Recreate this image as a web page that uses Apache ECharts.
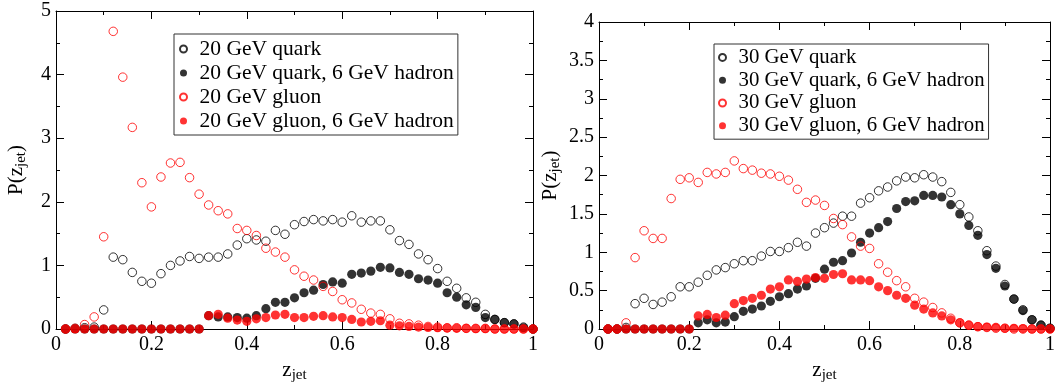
<!DOCTYPE html>
<html>
<head>
<meta charset="utf-8">
<script src="https://cdn.jsdelivr.net/npm/echarts@6/dist/echarts.min.js"></script>
<style>html,body{margin:0;padding:0;background:#fff}#c{width:1058px;height:388px}</style>
</head>
<body>
<div id="c"></div>
<script>
// z_jet bin centres
const zJet = [0.02,0.04,0.06,0.08,0.10,0.12,0.14,0.16,0.18,0.20,
              0.22,0.24,0.26,0.28,0.30,0.32,0.34,0.36,0.38,0.40,
              0.42,0.44,0.46,0.48,0.50,0.52,0.54,0.56,0.58,0.60,
              0.62,0.64,0.66,0.68,0.70,0.72,0.74,0.76,0.78,0.80,
              0.82,0.84,0.86,0.88,0.90,0.92,0.94,0.96,0.98,1.00];

// Left panel: 20 GeV
const quark20 = [0,0.01,0.02,0.03,0.30,1.13,1.09,0.89,0.75,0.72,
                 0.87,1.00,1.07,1.14,1.11,1.13,1.13,1.18,1.32,1.42,
                 1.40,1.38,1.55,1.49,1.64,1.69,1.72,1.70,1.72,1.68,
                 1.78,1.68,1.70,1.70,1.56,1.39,1.33,1.18,1.09,0.95,
                 0.75,0.64,0.49,0.42,0.23,0.15,0.10,0.08,0.03,0];
const quark20h = [0,0,0,0,0,0,0,0,0,0,
                  0,0,0,0,0,0.21,0.19,0.19,0.18,0.17,
                  0.21,0.32,0.42,0.42,0.49,0.57,0.61,0.70,0.74,0.72,
                  0.86,0.88,0.91,0.97,0.96,0.89,0.86,0.79,0.77,0.72,
                  0.57,0.50,0.38,0.34,0.18,0.15,0.10,0.08,0.02,0];
const gluon20 = [0,0.01,0.07,0.19,1.45,4.68,3.96,3.17,2.30,1.92,
                 2.39,2.61,2.62,2.38,2.12,1.95,1.86,1.81,1.58,1.55,
                 1.47,1.27,1.21,1.13,0.93,0.83,0.77,0.67,0.59,0.46,
                 0.41,0.31,0.25,0.23,0.16,0.09,0.08,0.06,0.04,0.03,
                 0.02,0.02,0.01,0.01,0.01,0,0,0,0,0];
const gluon20h = [0,0,0,0,0,0,0,0,0,0,
                  0,0,0,0,0,0.21,0.23,0.17,0.14,0.12,
                  0.16,0.18,0.22,0.23,0.18,0.18,0.20,0.21,0.19,0.18,
                  0.15,0.11,0.12,0.13,0.06,0.05,0.04,0.03,0.025,0.02,
                  0.015,0.01,0.01,0.005,0.005,0,0,0,0,0];

// Right panel: 30 GeV
const quark30 = [0,0,0.02,0.33,0.40,0.32,0.35,0.42,0.55,0.55,
                 0.61,0.70,0.77,0.80,0.85,0.89,0.89,0.95,1.01,1.01,
                 1.06,1.13,1.08,1.25,1.32,1.38,1.47,1.47,1.64,1.71,
                 1.80,1.85,1.93,1.98,1.97,2.01,1.98,1.92,1.78,1.62,
                 1.46,1.28,1.02,0.82,0.58,0.39,0.25,0.12,0.05,0.01];
const quark30h = [0,0,0,0,0,0,0,0,0,0,
                  0.08,0.12,0.08,0.09,0.16,0.23,0.26,0.30,0.36,0.42,
                  0.46,0.52,0.56,0.66,0.78,0.87,0.89,0.99,1.13,1.25,
                  1.32,1.40,1.57,1.66,1.67,1.74,1.74,1.72,1.62,1.50,
                  1.35,1.22,0.97,0.79,0.56,0.39,0.24,0.12,0.05,0.01];
const gluon30 = [0,0,0.08,0.93,1.28,1.18,1.18,1.70,1.95,1.97,
                 1.91,2.04,2.02,2.04,2.19,2.09,2.07,2.03,2.02,1.99,
                 1.94,1.82,1.65,1.68,1.61,1.44,1.36,1.20,1.08,1.05,
                 0.85,0.74,0.63,0.55,0.40,0.35,0.28,0.21,0.14,0.08,
                 0.05,0.03,0.02,0.01,0.01,0,0,0,0,0];
const gluon30h = [0,0,0,0,0,0,0,0,0,0,
                  0.17,0.19,0.15,0.18,0.33,0.37,0.40,0.44,0.52,0.55,
                  0.64,0.62,0.65,0.67,0.66,0.71,0.72,0.64,0.64,0.63,
                  0.55,0.50,0.44,0.40,0.31,0.26,0.21,0.17,0.12,0.08,
                  0.05,0.03,0.025,0.02,0.01,0.01,0.005,0,0,0];

const namesLeft = ['20 GeV quark','20 GeV quark, 6 GeV hadron','20 GeV gluon','20 GeV gluon, 6 GeV hadron'];
const namesRight = ['30 GeV quark','30 GeV quark, 6 GeV hadron','30 GeV gluon','30 GeV gluon, 6 GeV hadron'];

const FONT = 'Liberation Serif';
const pairs = (ys) => zJet.map((x, i) => [x, ys[i]]);

const richName = {
  a: {fontFamily: FONT, fontSize: 21, color: '#000'},
  b: {fontFamily: FONT, fontSize: 15, color: '#000', padding: [10, 0, 0, 0]}
};

function xAxes(gi) {
  const common = {
    type: 'value', gridIndex: gi, min: 0, max: 1, interval: 0.2,
    axisLine: {show: true, onZero: false, lineStyle: {color: '#000', width: 1}},
    axisTick: {show: true, inside: true, length: 8, lineStyle: {color: '#000'}},
    minorTick: {show: true, splitNumber: 2, length: 4, lineStyle: {color: '#000'}},
    splitLine: {show: false}
  };
  return [
    Object.assign({}, common, {
      position: 'bottom',
      axisLabel: {fontFamily: FONT, fontSize: 20, color: '#000', margin: 6},
      name: '{a|z}{b|jet}', nameLocation: 'middle', nameGap: 29,
      nameTextStyle: {rich: richName}
    }),
    Object.assign({}, common, {position: 'top', axisLabel: {show: false}})
  ];
}
function yAxes(gi, max, interval, gap) {
  const common = {
    type: 'value', gridIndex: gi, min: 0, max: max, interval: interval,
    axisLine: {show: true, onZero: false, lineStyle: {color: '#000', width: 1}},
    axisTick: {show: true, inside: true, length: 8, lineStyle: {color: '#000'}},
    minorTick: {show: true, splitNumber: 2, length: 4, lineStyle: {color: '#000'}},
    splitLine: {show: false}
  };
  return [
    Object.assign({}, common, {
      position: 'left',
      axisLabel: {fontFamily: FONT, fontSize: 20, color: '#000', margin: 5},
      name: '{a|P(z}{b|jet}{a|)}', nameLocation: 'middle', nameGap: gap, nameRotate: 90,
      nameTextStyle: {rich: richName}
    }),
    Object.assign({}, common, {position: 'right', axisLabel: {show: false}})
  ];
}

function seriesFor(names, data, xi, yi) {
  const styles = [
    {color: 'rgba(0,0,0,0)', borderColor: '#000', borderWidth: 1},
    {color: '#000', borderWidth: 0},
    {color: 'rgba(0,0,0,0)', borderColor: '#ff0000', borderWidth: 1},
    {color: '#ff0000', borderWidth: 0}
  ];
  return names.map((n, i) => ({
    name: n, type: 'scatter', xAxisIndex: xi, yAxisIndex: yi,
    symbol: 'circle', symbolSize: i % 2 === 0 ? 8.5 : 9.2,
    itemStyle: styles[i], data: pairs(data[i]),
    emphasis: {disabled: true}, animation: false
  }));
}

const chart = echarts.init(document.getElementById('c'), null, {renderer: 'canvas'});
chart.setOption({
  backgroundColor: '#fff',
  animation: false,
  grid: [
    {left: 56, top: 11, width: 477, height: 333},
    {left: 599, top: 22, width: 462, height: 323}
  ],
  xAxis: [...xAxes(0), ...xAxes(1)],
  yAxis: [...yAxes(0, 5, 1, 27), ...yAxes(1, 4, 0.5, 36)],
  legend: [
    {
      data: namesLeft, orient: 'vertical', left: 174, top: 34,
      borderColor: '#333', borderWidth: 1, padding: [3, 4, 2, 5],
      itemWidth: 22, itemHeight: 7, itemGap: 0,
      textStyle: {fontFamily: FONT, fontSize: 21.5, color: '#000', lineHeight: 24},
      selectedMode: false
    },
    {
      data: namesRight, orient: 'vertical', left: 714, top: 44,
      borderColor: '#333', borderWidth: 1, padding: [2, 4, 2, 4],
      itemWidth: 22, itemHeight: 7, itemGap: 0,
      textStyle: {fontFamily: FONT, fontSize: 20.8, color: '#000', lineHeight: 22.8},
      selectedMode: false
    }
  ],
  series: [
    ...seriesFor(namesLeft, [quark20, quark20h, gluon20, gluon20h], 0, 0),
    ...seriesFor(namesRight, [quark30, quark30h, gluon30, gluon30h], 2, 2)
  ]
});
</script>
</body>
</html>
